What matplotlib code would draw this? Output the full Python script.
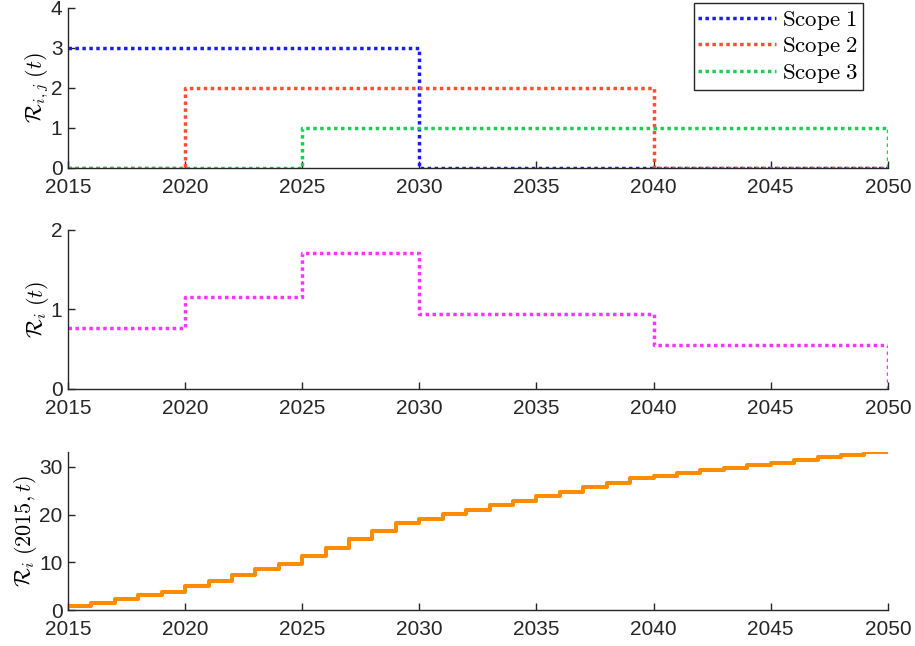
import matplotlib
matplotlib.use("Agg")
import matplotlib.pyplot as plt

plt.rcParams['mathtext.fontset'] = 'cm'
plt.rcParams['font.family'] = ['Liberation Sans', 'DejaVu Sans']

# breakpoints of the step functions (steps-post)
breaks = [2015, 2020, 2025, 2030, 2040, 2050]
scope1 = [3, 3, 3, 0, 0, 0]
scope2 = [0, 2, 2, 2, 0, 0]
scope3 = [0, 0, 1, 1, 1, 0]
r_i = [0.77, 1.16, 1.71, 0.94, 0.55, 0.0]

years = list(range(2015, 2051))
r_cum = [0.77, 1.54, 2.31, 3.08, 3.85, 5.01, 6.17, 7.33, 8.49, 9.65,
         11.36, 13.07, 14.78, 16.49, 18.20, 19.14, 20.08, 21.02, 21.96, 22.90,
         23.84, 24.78, 25.72, 26.66, 27.60, 28.15, 28.70, 29.25, 29.80, 30.35,
         30.90, 31.45, 32.00, 32.55, 33.10, 33.10]

xticks = [2015, 2020, 2025, 2030, 2035, 2040, 2045, 2050]
labels = ['Scope 1', 'Scope 2', 'Scope 3']
colors = ['#1a1aff', '#ff4d33', '#1ecc55']

fig = plt.figure(figsize=(9.15, 6.46), dpi=100)
left, width = 0.0743, 0.896
ax1 = fig.add_axes([left, 0.740, width, 0.2477])
ax2 = fig.add_axes([left, 0.398, width, 0.246])
ax3 = fig.add_axes([left, 0.0557, width, 0.2446])

dot = (0, (1, 1.0))
for s, lab, c in zip([scope1, scope2, scope3], labels, colors):
    ax1.plot(breaks, s, drawstyle='steps-post', color=c, lw=2.5,
             linestyle=dot, label=r'$\mathrm{' + lab.replace(' ', r'\ ') + '}$')
ax1.set_ylim(0, 4)
ax1.set_yticks([0, 1, 2, 3, 4])
ax1.set_ylabel(r'$\mathcal{R}_{i,j}\;(t)$', fontsize=16, labelpad=0)
leg = ax1.legend(loc='upper right', bbox_to_anchor=(0.9695, 1.031), fontsize=16.5,
                 borderaxespad=0, handlelength=3.4, handletextpad=0.25, borderpad=0.2,
                 labelspacing=0.12, fancybox=False, framealpha=1,
                 edgecolor='#262626')
leg.get_frame().set_linewidth(1.0)

ax2.plot(breaks, r_i, drawstyle='steps-post', color='#ff33ff', lw=2.5, linestyle=dot)
ax2.set_ylim(0, 2)
ax2.set_yticks([0, 1, 2])
ax2.set_ylabel(r'$\mathcal{R}_{i}\;(t)$', fontsize=16, labelpad=0)

ax3.plot(years, r_cum, drawstyle='steps-post', color='#ff8c00', lw=2.9)
ax3.set_ylim(0, 33.1)
ax3.set_yticks([0, 10, 20, 30])
ax3.set_ylabel(r'$\mathcal{R}_{i}\;(2015,t)$', fontsize=16, labelpad=0)

for ax in (ax1, ax2, ax3):
    ax.set_xlim(2015, 2050)
    ax.set_xticks(xticks)
    ax.spines['top'].set_visible(False)
    ax.spines['right'].set_visible(False)
    for sp in ('left', 'bottom'):
        ax.spines[sp].set_color('#262626')
        ax.spines[sp].set_linewidth(1.0)
    ax.tick_params(direction='in', length=5, width=1, colors='#262626',
                   labelsize=15)
    ax.tick_params(axis='x', pad=7)
    ax.tick_params(axis='y', pad=4)

fig.savefig('out.png', dpi=100)
